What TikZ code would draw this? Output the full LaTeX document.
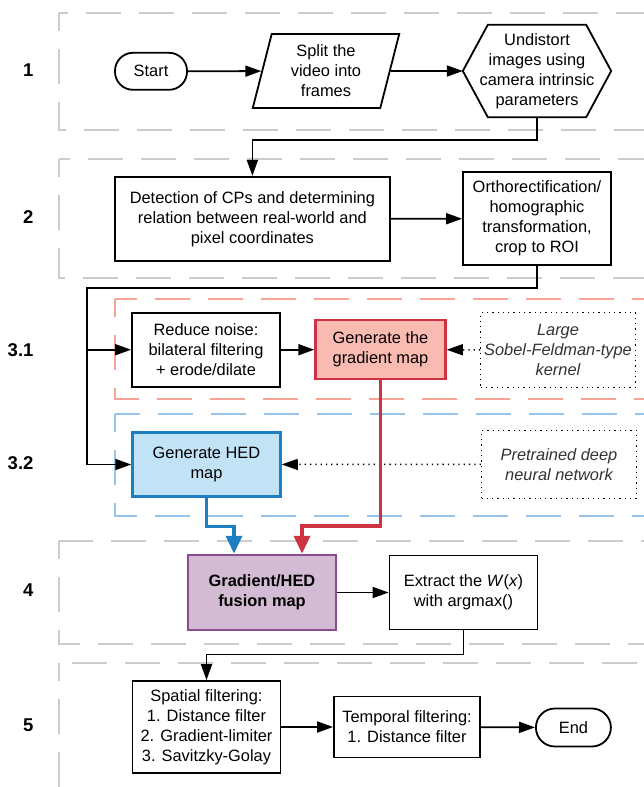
\documentclass[tikz,border=0pt]{standalone}
\usepackage{fontspec}
\setmainfont{Liberation Sans}
\usetikzlibrary{arrows.meta,shapes.geometric}
\definecolor{grpgray}{HTML}{CCCCCC}
\definecolor{grpred}{HTML}{F7A395}
\definecolor{grpblue}{HTML}{96C4EA}
\definecolor{gradfill}{HTML}{F9BAB1}
\definecolor{graddraw}{HTML}{CF3341}
\definecolor{hedfill}{HTML}{C2E3F5}
\definecolor{heddraw}{HTML}{1C7FC2}
\definecolor{fusefill}{HTML}{D4BBD4}
\definecolor{fusedraw}{HTML}{8A4D94}
\definecolor{notegray}{HTML}{333333}

\begin{document}
\begin{tikzpicture}[x=1pt,y=-1pt,
  every node/.style={font=\fontsize{16.4}{20}\selectfont, align=center},
  box/.style={draw, line width=1.8pt, fill=white, inner sep=2pt},
  term/.style={box, rounded corners=18pt, minimum width=72pt, minimum height=37pt},
  note/.style={draw, line width=1.3pt, dash pattern=on 1.3pt off 4pt, text=notegray,
    font=\fontsize{16.4}{20}\selectfont\itshape},
  lab/.style={anchor=east, font=\fontsize{18.5}{22}\selectfont\bfseries},
  grp/.style={line width=2pt, dash pattern=on 35pt off 18pt, dash phase=17pt},
  flow/.style={line width=1.8pt, -{Triangle[length=16pt,width=11pt]}},
  dotflow/.style={line width=1.5pt, dash pattern=on 1.3pt off 4pt, -{Triangle[length=16pt,width=11pt]}},
  fuseflow/.style={line width=3.5pt, -{Triangle[length=18pt,width=16pt]}}]
  \useasboundingbox (0,0) rectangle (643,787);

  \foreach \t/\b in {12.7/130, 159.3/277.7, 540.7/644, 663.3/800}
    \draw[grp, grpgray] (59.4,\t) rectangle (680,\b);
  \draw[grp, grpred] (114.8,299.3) rectangle (680,399.3);
  \draw[grp, grpblue] (114.8,414) rectangle (680,515.5);

  \node[lab] (lab1) at (37,70.5) {1};
  \node[lab] (lab2) at (37,216.7) {2};
  \node[lab] (lab31) at (37,350) {3.1};
  \node[lab] (lab32) at (37,463) {3.2};
  \node[lab] (lab4) at (37,590) {4};
  \node[lab] (lab5) at (37,725) {5};

  \node[term] (start) at (151,71.3) {Start};
  \node[box, trapezium, trapezium left angle=77, trapezium right angle=103, trapezium stretches=true,
    minimum width=148pt, minimum height=74pt] (split) at (326,71) {Split the\\video into\\frames};
  \node[minimum width=148pt, minimum height=92pt] (undist) at (537,71)
    {Undistort\\images using\\camera intrinsic\\parameters};
  \draw[line width=1.8pt] ([xshift=25pt]undist.north west) -- ([xshift=-25pt]undist.north east)
    -- (undist.east) -- ([xshift=-25pt]undist.south east) -- ([xshift=25pt]undist.south west)
    -- (undist.west) -- cycle;
  \node[box, minimum width=275pt, minimum height=84pt] (detect) at (252.4,218.8)
    {Detection of CPs and determining\\relation between real-world and\\pixel coordinates};
  \node[box, minimum width=148pt, minimum height=93pt] (ortho) at (537,218.7)
    {Orthorectification/\\homographic\\transformation,\\crop to ROI};
  \node[box, minimum width=148pt, minimum height=74pt] (noise) at (206,349.7)
    {Reduce noise:\\bilateral filtering\\+ erode/dilate};
  \node[box, line width=2.5pt, draw=graddraw, fill=gradfill, minimum width=130pt, minimum height=59pt]
    (grad) at (380.5,349.7) {Generate the\\gradient map};
  \node[note, minimum width=153pt, minimum height=75pt] (sobel) at (558,349.8)
    {Large\\Sobel-Feldman-type\\kernel};
  \node[box, line width=2.5pt, draw=heddraw, fill=hedfill, minimum width=148pt, minimum height=64pt]
    (hed) at (206.5,464.5) {Generate HED\\map};
  \node[note, minimum width=155pt, minimum height=68pt] (pretr) at (559,464.2)
    {Pretrained deep\\neural network};
  \node[box, line width=2.5pt, draw=fusedraw, fill=fusefill, minimum width=148pt, minimum height=75pt,
    font=\fontsize{16.4}{20}\selectfont\bfseries] (fusion) at (262,592.5) {Gradient/HED\\fusion map};
  \node[box, minimum width=148pt, minimum height=74pt] (extract) at (463.5,592.5)
    {Extract the \textit{W}(\textit{x})\\with argmax()};
  \node[box, minimum width=148pt, minimum height=92pt] (spatial) at (206.5,727)
    {Spatial filtering:\\1. Distance filter\\2. Gradient-limiter\\3. Savitzky-Golay};
  \node[box, minimum width=146pt, minimum height=61pt] (temporal) at (407,727)
    {Temporal filtering:\\1. Distance filter};
  \node[term, minimum width=75pt, minimum height=38pt, rounded corners=19pt] (stop) at (573.4,727.5) {End};

  \coordinate (fork) at (87.3,349.7);

  \draw[flow] (start) -- (split);
  \draw[flow] (split) -- (undist);
  \draw[flow] (undist.south) -- ++(0,23) -| (detect.north);
  \draw[flow] (detect) -- (ortho);
  \draw[flow] (ortho.south) -- ++(0,21.7) -| (fork) |- (noise.west);
  \draw[flow] (fork) |- (hed.west);
  \draw[flow] (noise) -- (grad);
  \draw[dotflow] (sobel) -- (grad);
  \draw[dotflow] (pretr) -- (hed);
  \draw[fuseflow, heddraw] (hed.south) -- ++(0,28.5) -| ([xshift=-28pt]fusion.north);
  \draw[fuseflow, graddraw] (grad.south) -- ++(0,145.7) -| ([xshift=40pt]fusion.north);
  \draw[flow] (fusion) -- (extract);
  \draw[flow] (extract.south) -- ++(0,24) -| (spatial.north);
  \draw[flow] (spatial) -- (temporal);
  \draw[flow] (temporal) -- (stop);
\end{tikzpicture}
\end{document}
